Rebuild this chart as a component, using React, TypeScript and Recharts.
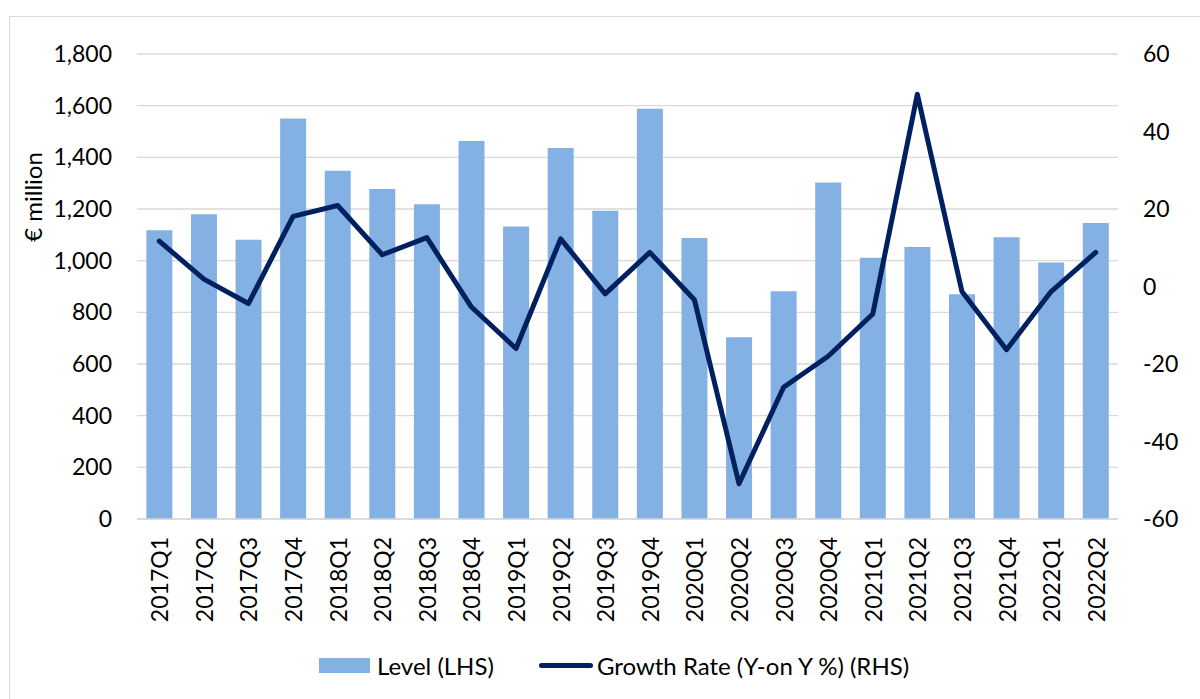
import { Bar, CartesianGrid, ComposedChart, Legend, Line, XAxis, YAxis } from 'recharts';

const quarters = [
  '2017Q1', '2017Q2', '2017Q3', '2017Q4',
  '2018Q1', '2018Q2', '2018Q3', '2018Q4',
  '2019Q1', '2019Q2', '2019Q3', '2019Q4',
  '2020Q1', '2020Q2', '2020Q3', '2020Q4',
  '2021Q1', '2021Q2', '2021Q3', '2021Q4',
  '2022Q1', '2022Q2'
];

const levelValues = [
  1118, 1180, 1081, 1550,
  1348, 1277, 1218, 1463,
  1132, 1436, 1193, 1588,
  1088, 704, 882, 1303,
  1011, 1053, 870, 1091,
  993, 1146
];

const growthValues = [
  11.7, 1.9, -4.4, 18.1,
  20.9, 8.2, 12.6, -5.3,
  -16.0, 12.3, -1.9, 8.8,
  -3.4, -50.9, -26.0, -18.0,
  -7.1, 49.6, -1.3, -16.3,
  -1.3, 8.8
];

const leftTicks = [0, 200, 400, 600, 800, 1000, 1200, 1400, 1600, 1800];
const rightTicks = [-60, -40, -20, 0, 20, 40, 60];

const data = quarters.map((q, i) => ({
  quarter: q,
  level: levelValues[i],
  growth: growthValues[i]
}));

const FONT = 'Lato, "Open Sans", sans-serif';
const BAR_COLOR = '#84B1E3';
const LINE_COLOR = '#002060';

const QuarterTick = ({ x, y, payload }: any) => (
  <g transform={`translate(${x},${y})`}>
    <text
      transform="rotate(-90)"
      textAnchor="end"
      dominantBaseline="central"
      fontFamily={FONT}
      fontSize={23}
      fill="#000"
    >
      {payload.value}
    </text>
  </g>
);

// bars first, like the original legend
const LegendContent = ({ payload }: any) => {
  const items = [...(payload ?? [])].sort((a: any, b: any) =>
    a.type === b.type ? 0 : a.type === 'rect' ? -1 : 1
  );
  return (
    <div
      style={{
        display: 'flex',
        alignItems: 'center',
        fontFamily: FONT,
        fontSize: 24,
        color: '#000',
        paddingLeft: 319
      }}
    >
      {items.map((entry: any) => (
        <div key={entry.value} style={{ display: 'flex', alignItems: 'center', marginRight: 45 }}>
          {entry.type === 'rect' ? (
            <span style={{ display: 'inline-block', width: 51, height: 15, background: BAR_COLOR, marginRight: 7 }} />
          ) : (
            <span style={{ display: 'inline-block', width: 54, height: 5, borderRadius: 2.5, background: LINE_COLOR, marginRight: 4 }} />
          )}
          <span>{entry.value}</span>
        </div>
      ))}
    </div>
  );
};

const AxisTitle = () => (
  <text
    x={32}
    y={197}
    transform="rotate(-90, 32, 197)"
    textAnchor="middle"
    dominantBaseline="central"
    fontFamily={FONT}
    fontSize={24}
    fill="#000"
  >
    € million
  </text>
);

export default function App() {
  return (
    <div style={{ position: 'fixed', left: 0, top: 0, width: 1200, height: 699, overflow: 'hidden', background: '#fff' }}>
      <div
        style={{
          position: 'absolute',
          left: 9,
          top: 16,
          width: 1300,
          height: 800,
          border: '1.5px solid #d9d9d9'
        }}
      />
      <div style={{ position: 'absolute', left: 0, top: 0 }}>
        <ComposedChart
          width={1200}
          height={699}
          data={data}
          margin={{ top: 54, right: 0, bottom: 0, left: 0 }}
          barCategoryGap="21%"
        >
          <CartesianGrid yAxisId="left" vertical={false} stroke="#d9d9d9" strokeWidth={1.4} />
          <XAxis
            dataKey="quarter"
            interval={0}
            height={180}
            axisLine={{ stroke: '#d9d9d9', strokeWidth: 1.4 }}
            tickLine={false}
            tickSize={0}
            tickMargin={18}
            tick={<QuarterTick />}
          />
          <YAxis
            yAxisId="left"
            width={137}
            domain={[0, 1800]}
            ticks={leftTicks}
            axisLine={false}
            tickLine={false}
            tickSize={0}
            tickMargin={25}
            tickFormatter={(v: number) => v.toLocaleString('en-US')}
            tick={{ fontFamily: FONT, fontSize: 23, fill: '#000' }}
            label={<AxisTitle />}
          />
          <YAxis
            yAxisId="right"
            orientation="right"
            width={82}
            domain={[-60, 60]}
            ticks={rightTicks}
            axisLine={false}
            tickLine={false}
            tickSize={0}
            tickMargin={25}
            tick={{ fontFamily: FONT, fontSize: 23, fill: '#000', textAnchor: 'start' }}
          />
          <Legend
            layout="horizontal"
            verticalAlign="middle"
            align="center"
            wrapperStyle={{ top: 651, left: 0, width: 1200 }}
            content={<LegendContent />}
          />
          <Bar
            yAxisId="left"
            dataKey="level"
            name="Level (LHS)"
            legendType="rect"
            fill={BAR_COLOR}
            isAnimationActive={false}
          />
          <Line
            yAxisId="right"
            type="linear"
            dataKey="growth"
            name="Growth Rate (Y-on Y %) (RHS)"
            legendType="line"
            stroke={LINE_COLOR}
            strokeWidth={5}
            strokeLinejoin="round"
            strokeLinecap="round"
            dot={false}
            activeDot={false}
            isAnimationActive={false}
          />
        </ComposedChart>
      </div>
    </div>
  );
}
